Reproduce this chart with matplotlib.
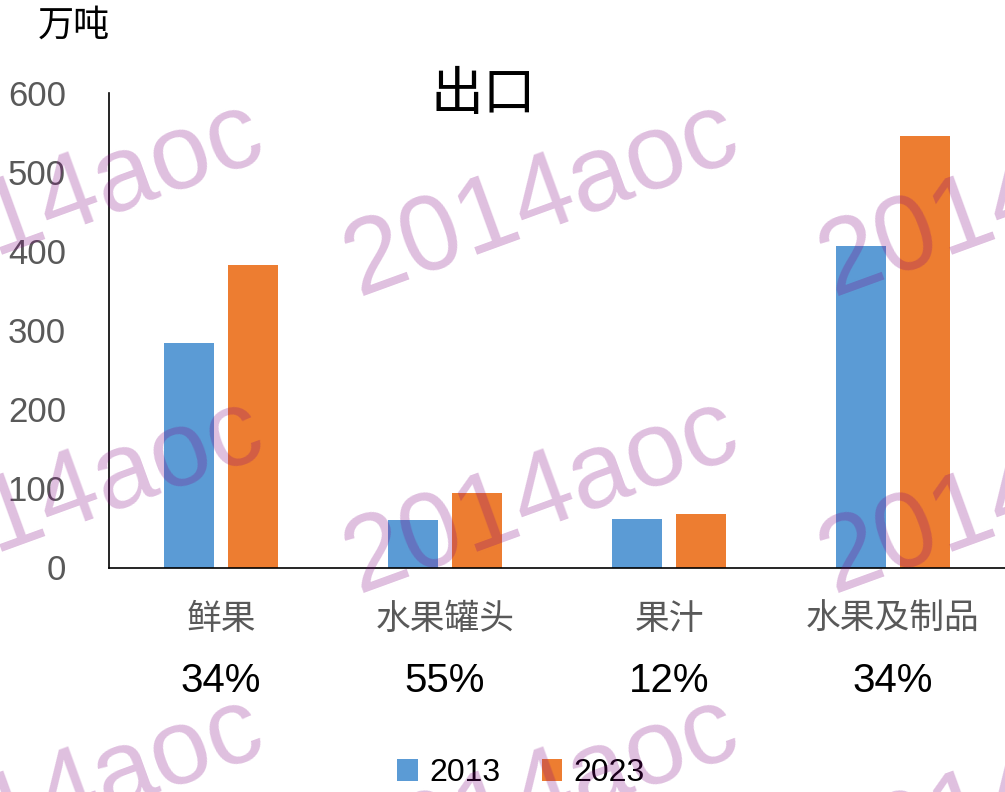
import matplotlib.pyplot as plt
import numpy as np

categories = ['鲜果', '水果罐头', '果汁', '水果及制品']
years = ['2013', '2023']
export_2013 = [284, 60, 61, 407]
export_2023 = [382, 94, 68, 545]
growth = ['34%', '55%', '12%', '34%']
yticks = [0, 100, 200, 300, 400, 500, 600]

cjk = ['Noto Sans CJK SC', 'DejaVu Sans']
num = ['Liberation Sans', 'DejaVu Sans']
plt.rcParams['font.family'] = cjk

W, H = 1005, 792
fig = plt.figure(figsize=(W / 100, H / 100), dpi=100)
ax = fig.add_axes([109 / W, 1 - 567.5 / H, 1 - 109 / W, (567.5 - 93) / H])

x = np.arange(len(categories))
w = 0.223
ax.bar(x - 0.143, export_2013, w, color='#5B9BD5', label=years[0])
ax.bar(x + 0.143, export_2023, w, color='#ED7D31', label=years[1])

ax.set_xlim(-0.5, 3.5)
ax.set_ylim(0, 600)
ax.set_yticks(yticks)
ax.set_xticks(x)
ax.set_xticklabels(categories)
for s in ['top', 'right']:
    ax.spines[s].set_visible(False)
for s in ['left', 'bottom']:
    ax.spines[s].set_color('black')
    ax.spines[s].set_linewidth(1.2)

ax.tick_params(axis='y', length=0, pad=31, labelsize=25, labelcolor='#595959')
ax.tick_params(axis='x', length=0, pad=25, labelsize=25, labelcolor='#595959')
for lbl in ax.get_yticklabels():
    lbl.set_family(num)

# growth percentages under the category names
for i, g in enumerate(growth):
    ax.text(i, -0.24, g, transform=ax.get_xaxis_transform(), ha='center',
            va='center', fontsize=29, color='black', family=num)

fig.text(483 / W, 1 - 95 / H, '出口', ha='center', va='center', fontsize=38, color='black')
fig.text(74 / W, 1 - 26 / H, '万吨', ha='center', va='center', fontsize=26, color='black')

fig.legend(loc='center', bbox_to_anchor=(521 / W, 1 - 773 / H), ncol=2, frameon=False,
           prop={'family': num, 'size': 23}, handlelength=0.65, handleheight=0.7,
           handletextpad=0.35, columnspacing=1.3)

# watermark
for wy in [200, 497, 795]:
    for wx in [67, 542, 1017]:
        fig.text(wx / W, 1 - wy / H, '2014aoc', ha='center', va='center', rotation=20,
                 rotation_mode='anchor', fontsize=77, color='#800080', alpha=0.25,
                 family=['Liberation Sans', 'DejaVu Sans'], zorder=10)

fig.savefig('out.png', dpi=100)
